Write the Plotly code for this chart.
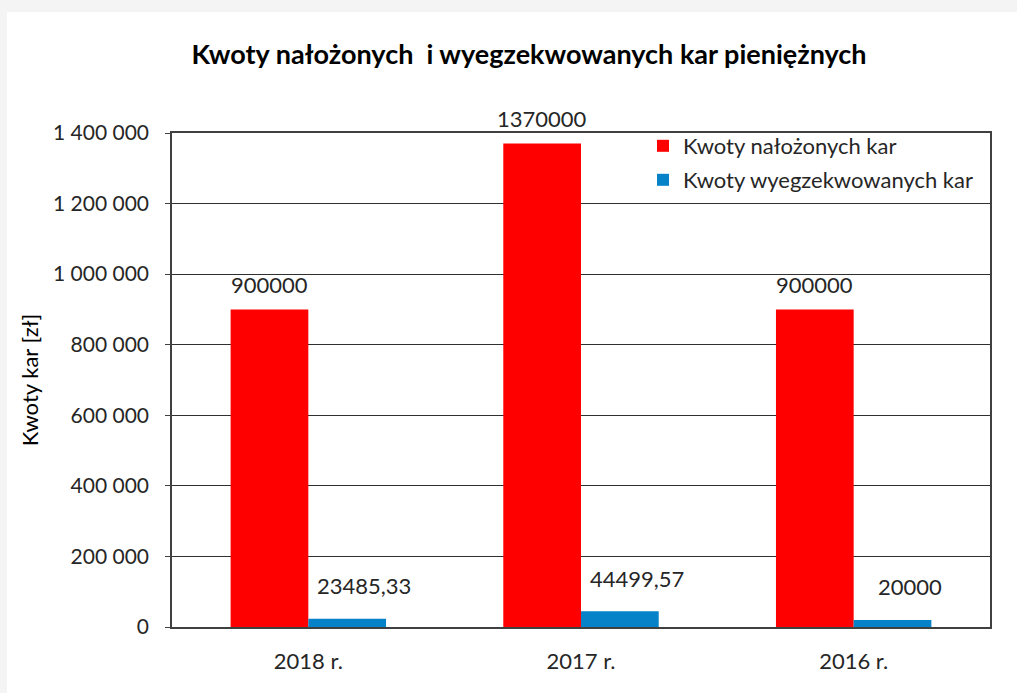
import plotly.graph_objects as go

categories = ["2018 r.", "2017 r.", "2016 r."]
imposed = [900000, 1370000, 900000]
collected = [23485.33, 44499.57, 20000]
imposed_labels = ["900000", "1370000", "900000"]
collected_labels = ["23485,33", "44499,57", "20000"]

title_text = "Kwoty nałożonych  i wyegzekwowanych kar pieniężnych"
y_title = "Kwoty kar [zł]"
name_imposed = "Kwoty nałożonych kar"
name_collected = "Kwoty wyegzekwowanych kar"

RED = "#FF0000"
BLUE = "#0582C8"
FONT = "Lato"
TXT = "#262626"

W, H = 1017, 693
L, R, T, B = 172, 27, 133, 66
pw, ph = W - L - R, H - T - B

def px_x(p):
    return (p - L) / pw

def px_y(p):
    return (H - B - p) / ph

fig = go.Figure()
fig.add_trace(go.Bar(x=categories, y=imposed, name=name_imposed, showlegend=True,
                     marker=dict(color=RED, line=dict(width=0)), legend="legend"))
fig.add_trace(go.Bar(x=categories, y=collected, name=name_collected, showlegend=True,
                     marker=dict(color=BLUE, line=dict(width=0)), legend="legend2"))

bargap = 0.43
half = (1 - bargap) / 4
annotations = []
for i, (v, t) in enumerate(zip(imposed, imposed_labels)):
    annotations.append(dict(x=i - half, y=v, xref="x", yref="y", text=t, showarrow=False,
                            yanchor="middle", yshift=25, font=dict(family=FONT, size=22, color=TXT)))
for i, (v, t) in enumerate(zip(collected, collected_labels)):
    annotations.append(dict(x=i + half, y=v, xref="x", yref="y", text=t, showarrow=False,
                            yanchor="middle", yshift=33, xshift=17, font=dict(family=FONT, size=22, color=TXT)))

shapes = [dict(type="rect", xref="paper", yref="paper", layer="below",
               x0=px_x(7), x1=px_x(W + 5), y0=px_y(H + 5), y1=px_y(12),
               fillcolor="white", line=dict(width=0))]

fig.update_layout(
    width=W, height=H,
    margin=dict(l=L, r=R, t=T, b=B, autoexpand=False),
    paper_bgcolor="#F4F4F4",
    plot_bgcolor="rgba(0,0,0,0)",
    barmode="group", bargap=bargap, bargroupgap=0,
    separators=", ",
    showlegend=True,
    title=dict(text="<b>" + title_text + "</b>", x=529 / W, xref="container", xanchor="center",
               y=1 - 55 / H, yanchor="middle", font=dict(family=FONT, size=27, color="#000000")),
    font=dict(family=FONT, size=21, color=TXT),
    legend=dict(x=px_x(643), y=px_y(125), xanchor="left", yanchor="top", bgcolor="rgba(0,0,0,0)",
                font=dict(family=FONT, size=22, color=TXT)),
    legend2=dict(x=px_x(643), y=px_y(159), xanchor="left", yanchor="top", bgcolor="rgba(0,0,0,0)",
                 font=dict(family=FONT, size=22, color=TXT)),
    annotations=annotations,
    shapes=shapes,
)
fig.update_xaxes(showline=True, linecolor="#404040", linewidth=1.5, mirror=True,
                 ticks="", tickfont=dict(family=FONT, size=22, color=TXT), ticklabelstandoff=14)
fig.update_yaxes(range=[0, 1400000], dtick=200000, tickformat=",d",
                 showline=True, linecolor="#404040", linewidth=1.5, mirror=True,
                 showgrid=True, gridcolor="#303030", gridwidth=1.2,
                 ticks="outside", ticklen=5, tickcolor="#404040",
                 tickfont=dict(family=FONT, size=21, color=TXT), ticklabelstandoff=12,
                 title=dict(text=y_title, font=dict(family=FONT, size=22, color="#000000"), standoff=8),
                 zeroline=False)

fig.write_html("out.html", config={"displayModeBar": False},
               post_script="document.body.style.margin='0px';document.body.style.overflow='hidden';")
